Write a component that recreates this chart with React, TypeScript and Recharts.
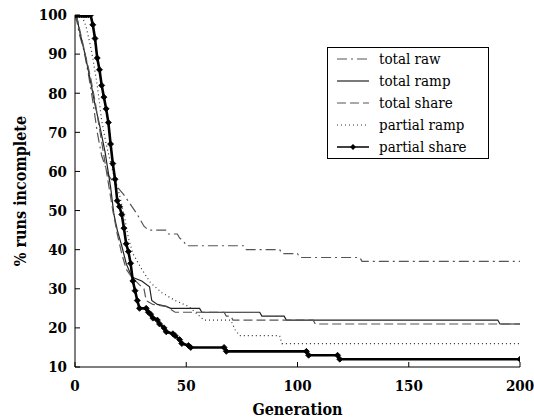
import React from 'react';
import { LineChart, Line, XAxis, YAxis, Legend } from 'recharts';

// [generation, % runs incomplete]
const totalRaw = [
  [0, 100], [1, 98], [2, 95], [4, 91], [6, 85], [8, 78], [10, 70], [12, 64], [15, 59],
  [19, 56], [22, 54], [25, 51.5], [28, 49], [31, 46], [33, 45], [41, 45], [42, 44],
  [46, 44], [47, 43], [49, 42], [50, 41], [76, 41], [77, 40], [92, 40], [93, 39],
  [100, 39], [101, 38], [128, 38], [129, 37], [200, 37],
];
const totalRamp = [
  [0, 100], [1, 99], [2, 96], [4.5, 90], [7, 83], [9, 77], [11, 72], [13.5, 65], [16, 56],
  [17.5, 49], [19, 45], [21, 41], [23, 36.5], [25.5, 33], [30, 32], [33.5, 30.5],
  [34.5, 27], [37, 26], [41, 25.5], [43, 25], [56, 25], [57, 24], [83, 24], [84, 23],
  [94, 23], [95, 22], [190, 22], [191, 21], [200, 21],
];
const totalShare = [
  [0, 100], [1, 99], [3, 94], [5, 89], [7, 84], [9, 78], [11, 71], [13, 64], [15, 57],
  [17, 50], [19, 44], [21, 39], [23, 35], [25.5, 33], [29, 31], [31, 30], [32, 27],
  [35, 26], [41, 25.5], [45, 24], [67, 24], [68, 23], [70, 23], [71, 22], [107, 22],
  [108, 21], [200, 21],
];
const partialRamp = [
  [0, 100], [3, 100], [5, 97], [7, 92], [8, 89], [10, 82], [12, 73], [14, 67], [17, 60],
  [20, 54], [22, 49], [24, 43], [26, 39], [30, 35], [34, 31.5], [39, 29], [45, 27],
  [51, 25.5], [57, 22.5], [58, 22], [70, 22], [72, 19.5], [74, 18], [92, 18], [93, 16],
  [200, 16],
];
const partialShare = [
  [0, 100], [1, 100], [2, 100], [3, 100], [4, 100], [5, 100], [6, 100], [7, 100],
  [8, 97.5], [9, 94], [10, 89], [11, 86], [12, 82], [13, 79], [14, 76], [15, 72.5],
  [16, 67], [17, 62], [18, 58], [19, 52.5], [20, 51], [21, 49], [22, 45.5], [23, 41.5],
  [24, 39.5], [25, 36.5], [26, 32], [27, 29.5], [28, 27], [29, 25], [32, 25], [33, 24],
  [34, 23.5], [35, 22.5], [37, 22], [38, 21], [40, 20], [41, 19], [44, 18.5], [45, 18],
  [47, 17], [48, 16], [51, 15.5], [52, 15], [67, 15], [68, 14], [104, 14], [105, 13],
  [118, 13], [119, 12], [200, 12],
];

const xTicks = [0, 50, 100, 150, 200];
const yTicks = [10, 20, 30, 40, 50, 60, 70, 80, 90, 100];

// no Times-like face in the sandbox: condensed DejaVu Serif is the closest
const FONT = '"DejaVu Serif Condensed", "DejaVu Serif", serif';

const toPoints = (pairs: number[][]) => pairs.map(([x, y]) => ({ x, y }));

const series = [
  { name: 'total raw', data: totalRaw, color: '#555', dash: '10 4 2 4', width: 1.2, marker: false },
  { name: 'total ramp', data: totalRamp, color: '#222', dash: undefined, width: 1.2, marker: false },
  { name: 'total share', data: totalShare, color: '#555', dash: '9 4', width: 1.2, marker: false },
  { name: 'partial ramp', data: partialRamp, color: '#333', dash: '1 3', width: 1.2, marker: false },
  { name: 'partial share', data: partialShare, color: '#000', dash: undefined, width: 2.6, marker: true },
];

const Marker = (props: any) => {
  const { cx, cy } = props;
  if (cx == null || cy == null) return null;
  return (
    <path
      key={props.key}
      d={`M${cx - 3},${cy}L${cx},${cy - 3}L${cx + 3},${cy}L${cx},${cy + 3}Z`}
      fill="#000"
      stroke="#000"
      strokeWidth={0.8}
    />
  );
};

const noLabel = () => <g />;

const LegendBox = () => (
  <div
    style={{
      border: '1px solid #000',
      background: '#fff',
      width: 160,
      fontFamily: FONT,
      fontStretch: 'condensed',
      fontSize: 15,
      color: '#000',
      whiteSpace: 'nowrap',
    }}
  >
    {series.map((s) => (
      <div key={s.name} style={{ display: 'flex', alignItems: 'center', height: 22 }}>
        <svg width={51} height={10} style={{ flex: 'none' }}>
          <line
            x1={9}
            x2={41}
            y1={5}
            y2={5}
            stroke={s.color}
            strokeWidth={s.marker ? 1.5 : 1.2}
            strokeDasharray={s.dash}
          />
          {s.marker && <path d="M22,5L25,2L28,5L25,8Z" fill="#000" />}
        </svg>
        <span style={{ lineHeight: '22px' }}>{s.name}</span>
      </div>
    ))}
  </div>
);

export default function App() {
  const tickStyle = { fontFamily: FONT, fontStretch: 'condensed', fontSize: 15, fontWeight: 'bold', fill: '#000' };
  const titleStyle = { fontFamily: FONT, fontStretch: 'condensed', fontSize: 16, fontWeight: 'bold', fill: '#000' };
  return (
    <div style={{ position: 'absolute', left: 0, top: 0, background: '#fff' }}>
      <LineChart width={534} height={419} margin={{ top: 15, right: 14, left: 0, bottom: 0 }}>
        <XAxis
          type="number"
          dataKey="x"
          domain={[0, 200]}
          ticks={xTicks}
          allowDataOverflow
          height={52}
          stroke="#000"
          tickSize={-5}
          tickMargin={18}
          tick={tickStyle}
          label={{ value: 'Generation', position: 'insideBottom', offset: 4, style: titleStyle }}
        />
        <XAxis
          xAxisId="top"
          orientation="top"
          type="number"
          dataKey="x"
          domain={[0, 200]}
          ticks={xTicks}
          allowDataOverflow
          height={0}
          stroke="#000"
          tickSize={-5}
          tick={noLabel}
        />
        <YAxis
          type="number"
          domain={[10, 100]}
          ticks={yTicks}
          allowDataOverflow
          width={75}
          stroke="#000"
          tickSize={-5}
          tickMargin={13}
          tick={tickStyle}
          label={{
            value: '% runs incomplete',
            angle: -90,
            position: 'insideLeft',
            offset: 20,
            style: { ...titleStyle, textAnchor: 'middle' },
          }}
        />
        <YAxis
          yAxisId="right"
          orientation="right"
          type="number"
          domain={[10, 100]}
          ticks={yTicks}
          allowDataOverflow
          width={0}
          stroke="#000"
          tickSize={-5}
          tick={noLabel}
        />
        {series.map((s) => (
          <Line
            key={s.name}
            name={s.name}
            data={toPoints(s.data)}
            dataKey="y"
            type="linear"
            stroke={s.color}
            strokeWidth={s.width}
            strokeDasharray={s.dash}
            dot={s.marker ? Marker : false}
            activeDot={false}
            isAnimationActive={false}
          />
        ))}
        <Legend
          layout="vertical"
          align="center"
          verticalAlign="middle"
          content={LegendBox}
          wrapperStyle={{ left: 327, top: 47, width: 162 }}
        />
      </LineChart>
    </div>
  );
}
